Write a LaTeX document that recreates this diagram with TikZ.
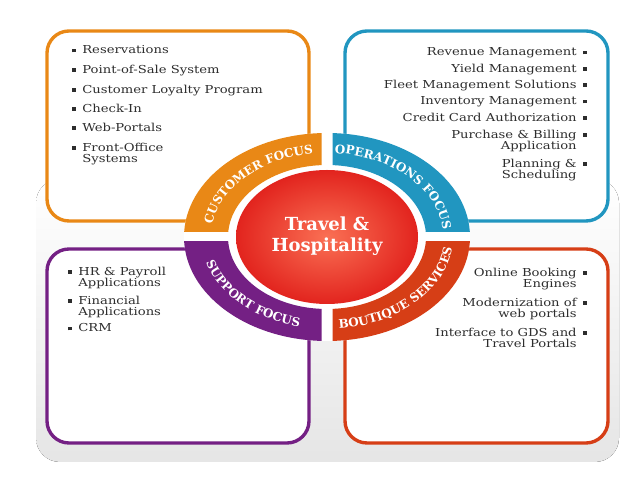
\documentclass[tikz,border=0pt]{standalone}
\usepackage{fontspec}
\setmainfont{DejaVu Serif}
\usetikzlibrary{decorations.text}
\definecolor{custorange}{RGB}{233,136,22}
\definecolor{opsblue}{RGB}{33,150,192}
\definecolor{suppurple}{RGB}{116,32,132}
\definecolor{boutred}{RGB}{214,62,22}
\definecolor{hubred}{RGB}{226,36,30}
\definecolor{hublight}{RGB}{250,112,84}
\definecolor{listgray}{RGB}{45,45,45}
\newcommand\bul{\rule[0.25ex]{0.3em}{0.3em}}
\newcommand\listfont{\fontsize{7.8}{8.2}\selectfont}
\newcommand\arcfont{\fontsize{8.5}{8.5}\selectfont\bfseries}
\tikzset{
  panel/.style={line width=2.4pt, rounded corners=0.55cm, fill=white},
  lefti/.style={anchor=north west, align=left, font=\listfont, text=listgray, inner sep=0pt, xscale=1.2},
  righti/.style={anchor=north east, align=right, font=\listfont, text=listgray, inner sep=0pt, xscale=1.2},
  arctext/.style={decorate, decoration={text along path, text align=center, text color=white, text={|\arcfont|#1}}},
}

\begin{document}
\begin{tikzpicture}[x=0.025cm, y=0.025cm]
  \useasboundingbox (0,0) rectangle (638,479);
  % shadow under the panels
  \fill[top color=white, bottom color=black!10, rounded corners=0.6cm] (36,17) rectangle (619,300);
  % the four panels
  \draw[panel, draw=custorange] (47,258) rectangle (309,448);
  \draw[panel, draw=opsblue] (345,258) rectangle (608,448);
  \draw[panel, draw=suppurple] (47,36) rectangle (309,230);
  \draw[panel, draw=boutred] (345,36) rectangle (608,230);

  % ring
  \coordinate (hub) at (327,242);
  \fill[white] (hub) ellipse[x radius=143, y radius=104];
  \begin{scope}
    \clip (321.5,247) rectangle (150,400);
    \fill[custorange, even odd rule] (hub) ellipse[x radius=143, y radius=104] (hub) ellipse[x radius=99, y radius=72];
  \end{scope}
  \begin{scope}
    \clip (332.5,247) rectangle (500,400);
    \fill[opsblue, even odd rule] (hub) ellipse[x radius=143, y radius=104] (hub) ellipse[x radius=99, y radius=72];
  \end{scope}
  \begin{scope}
    \clip (321.5,237) rectangle (150,100);
    \fill[suppurple, even odd rule] (hub) ellipse[x radius=143, y radius=104] (hub) ellipse[x radius=99, y radius=72];
  \end{scope}
  \begin{scope}
    \clip (332.5,237) rectangle (500,100);
    \fill[boutred, even odd rule] (hub) ellipse[x radius=143, y radius=104] (hub) ellipse[x radius=99, y radius=72];
  \end{scope}

  % ring labels
  \path[arctext={CUSTOMER FOCUS}] (hub) ++(178:116 and 84) arc[start angle=178, end angle=92, x radius=116, y radius=84];
  \path[arctext={OPERATIONS FOCUS}] (hub) ++(88:116 and 84) arc[start angle=88, end angle=2, x radius=116, y radius=84];
  \path[arctext={SUPPORT FOCUS}] (hub) ++(182:126 and 92) arc[start angle=182, end angle=268, x radius=126, y radius=92];
  \path[arctext={BOUTIQUE SERVICES}] (hub) ++(272:126 and 92) arc[start angle=272, end angle=358, x radius=126, y radius=92];

  % centre
  \shade[inner color=hublight, outer color=hubred] (hub) ellipse[x radius=91, y radius=67];
  \node[font=\fontsize{12.8}{14.5}\selectfont\bfseries, text=white, align=center] (hubtext) at (327,243) {Travel \&\\Hospitality};

  % customer focus
  \node[lefti] (res) at (82,433.5) {\llap{\bul\hspace{3.5pt}}Reservations};
  \node[lefti] (pos) at (82,414.5) {\llap{\bul\hspace{3.5pt}}Point-of-Sale System};
  \node[lefti] (loyal) at (82,394.5) {\llap{\bul\hspace{3.5pt}}Customer Loyalty Program};
  \node[lefti] (checkin) at (82,375.5) {\llap{\bul\hspace{3.5pt}}Check-In};
  \node[lefti] (web) at (82,356.5) {\llap{\bul\hspace{3.5pt}}Web-Portals};
  \node[lefti] (front) at (82,336.5) {\llap{\bul\hspace{3.5pt}}Front-Office\\Systems};

  % operations focus
  \node[righti] (rev) at (577,431.5) {Revenue Management\rlap{\hspace{3.5pt}\bul}};
  \node[righti] (yield) at (577,415.5) {Yield Management\rlap{\hspace{3.5pt}\bul}};
  \node[righti] (fleet) at (577,399.5) {Fleet Management Solutions\rlap{\hspace{3.5pt}\bul}};
  \node[righti] (inv) at (577,382.5) {Inventory Management\rlap{\hspace{3.5pt}\bul}};
  \node[righti] (credit) at (577,366.5) {Credit Card Authorization\rlap{\hspace{3.5pt}\bul}};
  \node[righti] (billing) at (577,349.5) {Purchase \& Billing\rlap{\hspace{3.5pt}\bul}\\Application};
  \node[righti] (plan) at (577,320.5) {Planning \&\rlap{\hspace{3.5pt}\bul}\\Scheduling};

  % support focus
  \node[lefti] (hr) at (78,212.5) {\llap{\bul\hspace{3.5pt}}HR \& Payroll\\Applications};
  \node[lefti] (fin) at (78,183.5) {\llap{\bul\hspace{3.5pt}}Financial\\Applications};
  \node[lefti] (crm) at (78,155.5) {\llap{\bul\hspace{3.5pt}}CRM};

  % boutique services
  \node[righti] (booking) at (577,211.5) {Online Booking\rlap{\hspace{3.5pt}\bul}\\Engines};
  \node[righti] (modern) at (577,181.5) {Modernization of\rlap{\hspace{3.5pt}\bul}\\web portals};
  \node[righti] (gds) at (577,151.5) {Interface to GDS and\rlap{\hspace{3.5pt}\bul}\\Travel Portals};
\end{tikzpicture}
\end{document}
